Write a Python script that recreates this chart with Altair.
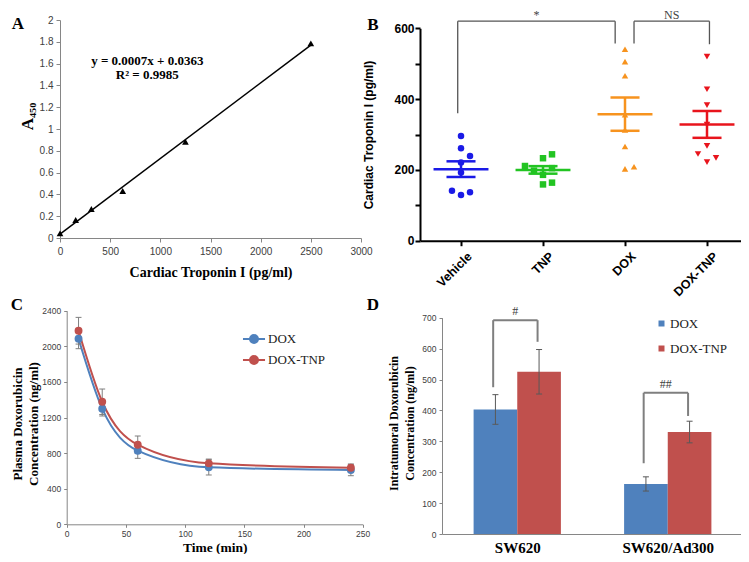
import altair as alt
import pandas as pd

SERIF = "Liberation Serif, DejaVu Serif"
SANS = "Liberation Sans, Arial"

# ---------------- Panel A : standard curve ----------------
A_conc = [0, 156.25, 312.5, 625, 1250, 2500]
A_abs = [0.043, 0.165, 0.266, 0.431, 0.883, 1.786]
A_eq_text = ["y = 0.0007x + 0.0363", "R\u00b2 = 0.9985"]
A_eq_x = [870, 870]
A_eq_y = [1.625, 1.495]

# ---------------- Panel B : scatter dot plot ----------------
B_groups = ["Vehicle", "TNP", "DOX", "DOX-TNP"]
B_colors = ["#1a1ae6", "#22c422", "#f7931e", "#e8141c"]
B_shapes = ["circle", "square", "triangle-up", "triangle-down"]
B_vehicle = [296, 261, 239, 221, 193, 141, 137, 129]
B_vehicle_slot = [0, 0, 1, 0, 0, -1, 1, 0]
B_tnp = [244, 233, 211, 205, 198, 186, 164, 159]
B_tnp_slot = [1, 0, -2, 1, -1, 0, 1, 0]
B_dox = [541, 506, 466, 356, 313, 266, 203, 209]
B_dox_slot = [0, 0, 0, 0, 0, 0, 0, 1]
B_doxtnp = [520, 428, 383, 328, 268, 245, 234, 222]
B_doxtnp_slot = [0, 0, 0, 0, 0, -1, 1, 0]
B_sig_labels = ["*", "NS"]
B_sig_from = ["Vehicle", "DOX"]
B_sig_to = ["DOX", "DOX-TNP"]
B_sig_top = [620, 620]
B_sig_from_bottom = [360, 557]
B_sig_to_bottom = [557, 555]

# ---------------- Panel C : plasma PK ----------------
C_series = ["DOX", "DOX-TNP"]
C_colors = ["#4f81bd", "#c0504d"]
C_time = [10, 30, 60, 120, 240]
C_dox = [2085, 1299, 827, 640, 610]
C_dox_err = [112, 82, 86, 86, 64]
C_doxtnp = [2175, 1377, 894, 685, 636]
C_doxtnp_err = [150, 143, 98, 48, 41]

# ---------------- Panel D : intratumoral ----------------
D_groups = ["SW620", "SW620/Ad300"]
D_series = ["DOX", "DOX-TNP"]
D_colors = ["#4f81bd", "#c0504d"]
D_dox = [403, 162]
D_dox_err = [48, 23]
D_doxtnp = [525, 330]
D_doxtnp_err = [72, 35]
D_sig_labels = ["#", "##"]
D_sig_top = [692, 457]
D_sig_left_bottom = [475, 229]
D_sig_right_bottom = [622, 382]

W, H = 733, 546

# ======================= Panel A =======================
dfA = pd.DataFrame({"conc": A_conc, "abs": A_abs})
dfAeq = pd.DataFrame({"x": A_eq_x, "y": A_eq_y, "text": A_eq_text})


def A_x(f):
    return alt.X(f, type="quantitative",
                 scale=alt.Scale(domain=[0, 3000], range=[52, 353], nice=False, zero=False),
                 axis=alt.Axis(orient="bottom", offset=230 - H, values=list(range(0, 3001, 500)),
                               format="d",
                               title="Cardiac Troponin I (pg/ml)", grid=False,
                               labelFont=SANS, labelFontSize=10, labelColor="#404040",
                               labelFlush=False, labelOverlap=False, labelPadding=4,
                               domainColor="#868686", tickColor="#868686", tickSize=4,
                               titleFont=SERIF, titleFontSize=14, titleFontWeight="bold",
                               titleColor="black", titleY=34, titleBaseline="middle"))


def A_y(f):
    return alt.Y(f, type="quantitative",
                 scale=alt.Scale(domain=[0, 2], range=[230, 12], nice=False),
                 axis=alt.Axis(orient="left", offset=-52,
                               values=[0, 0.2, 0.4, 0.6, 0.8, 1, 1.2, 1.4, 1.6, 1.8, 2],
                               format="~g", grid=False,
                               labelFont=SANS, labelFontSize=10, labelColor="#404040",
                               labelOverlap=False, labelPadding=3,
                               domainColor="#868686", tickColor="#868686", tickSize=4,
                               title="A\u2084\u2085\u2080", titleFont=SERIF, titleFontSize=17,
                               titleFontWeight="bold", titleColor="black",
                               titleX=-33, titleY=108, titleBaseline="middle"))


A_line = alt.Chart(dfA).transform_regression("conc", "abs", extent=[0, 2500]).mark_line(
    color="black", strokeWidth=1.5).encode(x=A_x("conc"), y=A_y("abs"))
A_pts = alt.Chart(dfA).mark_point(shape="triangle-up", filled=True, color="black",
                                  size=45, opacity=1).encode(x=A_x("conc"), y=A_y("abs"))
A_eq = alt.Chart(dfAeq).mark_text(font=SERIF, fontSize=13, fontWeight="bold",
                                  color="black").encode(x=A_x("x"), y=A_y("y"), text="text:N")
panelA = alt.layer(A_line, A_pts, A_eq)

# ======================= Panel B =======================
rows = []
for gi, (g, vals, slots) in enumerate(zip(
        B_groups, [B_vehicle, B_tnp, B_dox, B_doxtnp],
        [B_vehicle_slot, B_tnp_slot, B_dox_slot, B_doxtnp_slot])):
    for v, s in zip(vals, slots):
        rows.append({"group": g, "idx": gi, "slot": s, "value": v})
dfB = pd.DataFrame(rows)

B_label_expr = str(B_groups) + "[datum.value]"


def B_x(f):
    return alt.X(f, type="quantitative",
                 scale=alt.Scale(domain=[-0.5, 3.5], range=[412, 740], nice=False, zero=False),
                 axis=alt.Axis(orient="bottom", offset=232.7 - H, values=[0, 1, 2, 3],
                               labelExpr=B_label_expr, labelAngle=-45, title=None, grid=False,
                               labelFont=SANS, labelFontSize=12.5, labelFontWeight="bold",
                               labelColor="black", labelFlush=False, labelOverlap=False,
                               labelOffset=4,
                               domainColor="black", domainWidth=2, tickColor="black",
                               tickWidth=2, tickSize=5, labelPadding=4))


def B_y(f):
    return alt.Y(f, type="quantitative",
                 scale=alt.Scale(domain=[0, 600], range=[232.7, 20.3], nice=False),
                 axis=alt.Axis(orient="left", offset=-412, values=list(range(0, 601, 100)),
                               labelExpr="datum.value % 200 == 0 ? datum.label : ''",
                               grid=False, labelFont=SANS, labelFontSize=12,
                               labelFontWeight="bold", labelColor="black", labelPadding=1,
                               domainColor="black", domainWidth=2, tickColor="black",
                               tickWidth=2, tickSize=5,
                               title="Cardiac Troponin I (pg/ml)", titleFont=SANS,
                               titleFontSize=12, titleFontWeight="bold", titleColor="black",
                               titleX=-51.7, titleBaseline="middle"))


B_color = alt.Color("group:N", scale=alt.Scale(domain=B_groups, range=B_colors), legend=None)
SLOT = 0.11

B_pts = alt.Chart(dfB).transform_calculate(xpos=f"datum.idx + datum.slot * {SLOT}").mark_point(
    filled=True, opacity=1, size=42).encode(
    x=B_x("xpos"), y=B_y("value"), color=B_color,
    shape=alt.Shape("group:N", scale=alt.Scale(domain=B_groups, range=B_shapes), legend=None))

B_stats = alt.Chart(dfB).transform_aggregate(
    m="mean(value)", se="stderr(value)", groupby=["group", "idx"]).transform_calculate(
    lo="datum.m - datum.se", hi="datum.m + datum.se",
    ml="datum.idx - 0.335", mr="datum.idx + 0.335",
    cl="datum.idx - 0.177", cr="datum.idx + 0.177")

B_mean = B_stats.mark_rule(strokeWidth=2.5).encode(
    x=B_x("ml"), x2="mr:Q", y=B_y("m"), color=B_color)
B_sem = B_stats.mark_rule(strokeWidth=2.5).encode(
    x=B_x("idx"), y=B_y("lo"), y2="hi:Q", color=B_color)
B_cap_lo = B_stats.mark_rule(strokeWidth=2.5).encode(
    x=B_x("cl"), x2="cr:Q", y=B_y("lo"), color=B_color)
B_cap_hi = B_stats.mark_rule(strokeWidth=2.5).encode(
    x=B_x("cl"), x2="cr:Q", y=B_y("hi"), color=B_color)

# brackets
B_leg_shift_from = [-0.04, 0.11]
B_leg_shift_to = [-0.12, 0.03]
seg, lab = [], []
for i in range(len(B_sig_labels)):
    xl = B_groups.index(B_sig_from[i]) + B_leg_shift_from[i]
    xr = B_groups.index(B_sig_to[i]) + B_leg_shift_to[i]
    top = B_sig_top[i]
    seg.append({"x": xl, "x2": xl, "y": B_sig_from_bottom[i], "y2": top})
    seg.append({"x": xl, "x2": xr, "y": top, "y2": top})
    seg.append({"x": xr, "x2": xr, "y": B_sig_to_bottom[i], "y2": top})
    lab.append({"x": (xl + xr) / 2, "y": top, "text": B_sig_labels[i]})
dfBs = pd.DataFrame(seg)
dfBl = pd.DataFrame(lab)
B_br = alt.Chart(dfBs).mark_rule(color="#555555", strokeWidth=1.3).encode(
    x=B_x("x"), x2="x2:Q", y=B_y("y"), y2="y2:Q")
B_brt = alt.Chart(dfBl).mark_text(font=SERIF, fontSize=12, color="#444444",
                                  baseline="alphabetic", dy=-2).encode(
    x=B_x("x"), y=B_y("y"), text="text:N")

panelB = alt.layer(B_br, B_brt, B_pts, B_mean, B_sem, B_cap_lo, B_cap_hi)

# ======================= Panel C =======================
rowsC = []
for s, vals, errs in zip(C_series, [C_dox, C_doxtnp], [C_dox_err, C_doxtnp_err]):
    for t, v, e in zip(C_time, vals, errs):
        rowsC.append({"series": s, "t": t, "mean": v, "err": e})
dfC = pd.DataFrame(rowsC)


def C_x(f):
    return alt.X(f, type="quantitative",
                 scale=alt.Scale(domain=[0, 250], range=[58.7, 354.7], nice=False, zero=False),
                 axis=alt.Axis(orient="bottom", offset=516.3 - H, values=list(range(0, 251, 50)),
                               format="d", title="Time (min)", grid=False,
                               labelFont=SANS, labelFontSize=8.5, labelColor="#404040",
                               labelFlush=False, labelOverlap=False, labelPadding=2,
                               domainColor="#868686", tickColor="#868686", tickSize=3,
                               titleFont=SERIF, titleFontSize=13.5, titleFontWeight="bold",
                               titleColor="black", titleY=22.7, titleBaseline="middle"))


def C_y(f):
    return alt.Y(f, type="quantitative",
                 scale=alt.Scale(domain=[0, 2400], range=[516.3, 302.7], nice=False),
                 axis=alt.Axis(orient="left", offset=-58.7, values=list(range(0, 2401, 400)),
                               format="d", grid=False, labelFont=SANS, labelFontSize=8.5,
                               labelColor="#404040", labelOverlap=False, labelPadding=3,
                               domainColor="#868686", tickColor="#868686", tickSize=3,
                               title=["Plasma Doxorubicin", "Concentration (ng/ml)"],
                               titleFont=SERIF, titleFontSize=13, titleFontWeight="bold",
                               titleColor="black", titleLineHeight=16,
                               titleX=-49, titleY=415.5, titleBaseline="middle"))


C_legend = alt.Legend(orient="none", legendX=238, legendY=323, title=None,
                      labelFont=SERIF, labelFontSize=13, labelColor="#222222",
                      symbolType="M-1.6,0L1.6,0M0.58,0A0.58,0.58,0,1,1,-0.58,0A0.58,0.58,0,1,1,0.58,0Z",
                      symbolSize=190, symbolStrokeWidth=2, rowPadding=5, labelOffset=6)
C_scale = alt.Scale(domain=C_series, range=C_colors)

C_err = alt.Chart(dfC).transform_calculate(
    lo="datum.mean - datum.err", hi="datum.mean + datum.err",
    tl="datum.t - 2.5", tr="datum.t + 2.5")
C_err_v = C_err.mark_rule(color="#7f7f7f", strokeWidth=1).encode(
    x=C_x("t"), y=C_y("lo"), y2="hi:Q")
C_err_lo = C_err.mark_rule(color="#7f7f7f", strokeWidth=1).encode(
    x=C_x("tl"), x2="tr:Q", y=C_y("lo"))
C_err_hi = C_err.mark_rule(color="#7f7f7f", strokeWidth=1).encode(
    x=C_x("tl"), x2="tr:Q", y=C_y("hi"))
C_line = alt.Chart(dfC).mark_line(interpolate="monotone", strokeWidth=2).encode(
    x=C_x("t"), y=C_y("mean"),
    stroke=alt.Stroke("series:N", scale=C_scale, legend=C_legend))
C_pts = alt.Chart(dfC).mark_point(filled=True, size=62, opacity=1, strokeWidth=0).encode(
    x=C_x("t"), y=C_y("mean"),
    fill=alt.Fill("series:N", scale=C_scale, legend=C_legend))
panelC = alt.layer(C_line, C_err_v, C_err_lo, C_err_hi, C_pts)

# ======================= Panel D =======================
rowsD = []
for gi, g in enumerate(D_groups):
    for si, (s, vals, errs) in enumerate(zip(D_series, [D_dox, D_doxtnp], [D_dox_err, D_doxtnp_err])):
        rowsD.append({"group": g, "gi": gi, "series": s, "si": si,
                      "value": vals[gi], "err": errs[gi]})
dfD = pd.DataFrame(rowsD)

D_label_expr = str(D_groups) + "[datum.value]"
BW = 0.29


def D_x(f):
    return alt.X(f, type="quantitative",
                 scale=alt.Scale(domain=[-0.5, 1.5], range=[434, 735], nice=False, zero=False),
                 axis=alt.Axis(orient="bottom", offset=526 - H, values=[0, 1],
                               labelExpr=D_label_expr, title=None, grid=False,
                               labelFont=SERIF, labelFontSize=15, labelFontWeight="bold",
                               labelColor="black", labelFlush=False, labelOverlap=False,
                               domainColor="#868686", tickSize=0, labelPadding=6))


def D_y(f):
    return alt.Y(f, type="quantitative",
                 scale=alt.Scale(domain=[0, 700], range=[526, 309.7], nice=False),
                 axis=alt.Axis(orient="left", offset=-434, values=list(range(0, 701, 100)),
                               format="d", grid=False, labelFont=SANS, labelFontSize=8.5,
                               labelColor="#404040", labelOverlap=False, labelPadding=3,
                               domainColor="#868686", tickColor="#868686", tickSize=3,
                               title=["Intratumoral Doxorubicin", "Concentration (ng/ml)"],
                               titleFont=SERIF, titleFontSize=12, titleFontWeight="bold",
                               titleColor="black", titleLineHeight=16,
                               titleX=-49, titleY=415, titleBaseline="middle"))


D_legend = alt.Legend(orient="none", legendX=647, legendY=309, title=None,
                      labelFont=SERIF, labelFontSize=13, labelColor="#222222",
                      symbolType="square", symbolSize=36, symbolStrokeWidth=0,
                      rowPadding=11, labelOffset=2)

D_base = alt.Chart(dfD).transform_calculate(
    xl=f"datum.gi + (datum.si - 1) * {BW}", xr=f"datum.gi + datum.si * {BW}",
    xc=f"datum.gi + (datum.si - 0.5) * {BW}",
    cl=f"datum.gi + (datum.si - 0.5) * {BW} - 0.02",
    cr=f"datum.gi + (datum.si - 0.5) * {BW} + 0.02",
    lo="datum.value - datum.err", hi="datum.value + datum.err", zero="0")
D_bars = D_base.mark_rect().encode(
    x=D_x("xl"), x2="xr:Q", y=D_y("value"), y2="zero:Q",
    color=alt.Color("series:N", scale=alt.Scale(domain=D_series, range=D_colors),
                    legend=D_legend))
D_ev = D_base.mark_rule(color="#595959", strokeWidth=1).encode(
    x=D_x("xc"), y=D_y("lo"), y2="hi:Q")
D_elo = D_base.mark_rule(color="#595959", strokeWidth=1).encode(
    x=D_x("cl"), x2="cr:Q", y=D_y("lo"))
D_ehi = D_base.mark_rule(color="#595959", strokeWidth=1).encode(
    x=D_x("cl"), x2="cr:Q", y=D_y("hi"))

segD, labD = [], []
for gi in range(len(D_groups)):
    xl = gi - 0.5 * BW - 0.015
    xr = gi + 0.5 * BW - 0.01
    top = D_sig_top[gi]
    segD.append({"x": xl, "x2": xl, "y": D_sig_left_bottom[gi], "y2": top})
    segD.append({"x": xl, "x2": xr, "y": top, "y2": top})
    segD.append({"x": xr, "x2": xr, "y": D_sig_right_bottom[gi], "y2": top})
    labD.append({"x": (xl + xr) / 2, "y": top, "text": D_sig_labels[gi]})
dfDs = pd.DataFrame(segD)
dfDl = pd.DataFrame(labD)
D_br = alt.Chart(dfDs).mark_rule(color="#7f7f7f", strokeWidth=2).encode(
    x=D_x("x"), x2="x2:Q", y=D_y("y"), y2="y2:Q")
D_brt = alt.Chart(dfDl).mark_text(font=SERIF, fontSize=12, color="#404040",
                                  baseline="bottom", dy=-2).encode(
    x=D_x("x"), y=D_y("y"), text="text:N")
panelD = alt.layer(D_bars, D_ev, D_elo, D_ehi, D_br, D_brt)

# ======================= panel letters =======================
letters = []
for t, px, py in [("A", 10, 16), ("B", 365, 17), ("C", 9, 297), ("D", 365, 297)]:
    letters.append(alt.Chart(pd.DataFrame({"t": [t]})).mark_text(
        font=SERIF, fontSize=17, fontWeight="bold", color="black").encode(
        x=alt.value(px), y=alt.value(py), text="t:N"))

chart = alt.layer(panelA, panelB, panelC, panelD, *letters).resolve_scale(
    x="independent", y="independent", color="independent",
    stroke="independent", fill="independent", shape="independent"
).resolve_axis(x="independent", y="independent").resolve_legend(
    color="independent", stroke="independent", fill="independent"
).properties(width=W, height=H, autosize="none", padding=0,
             background="white").configure_view(stroke=None)

chart.save("out.html", embed_options={"renderer": "svg", "actions": False})
